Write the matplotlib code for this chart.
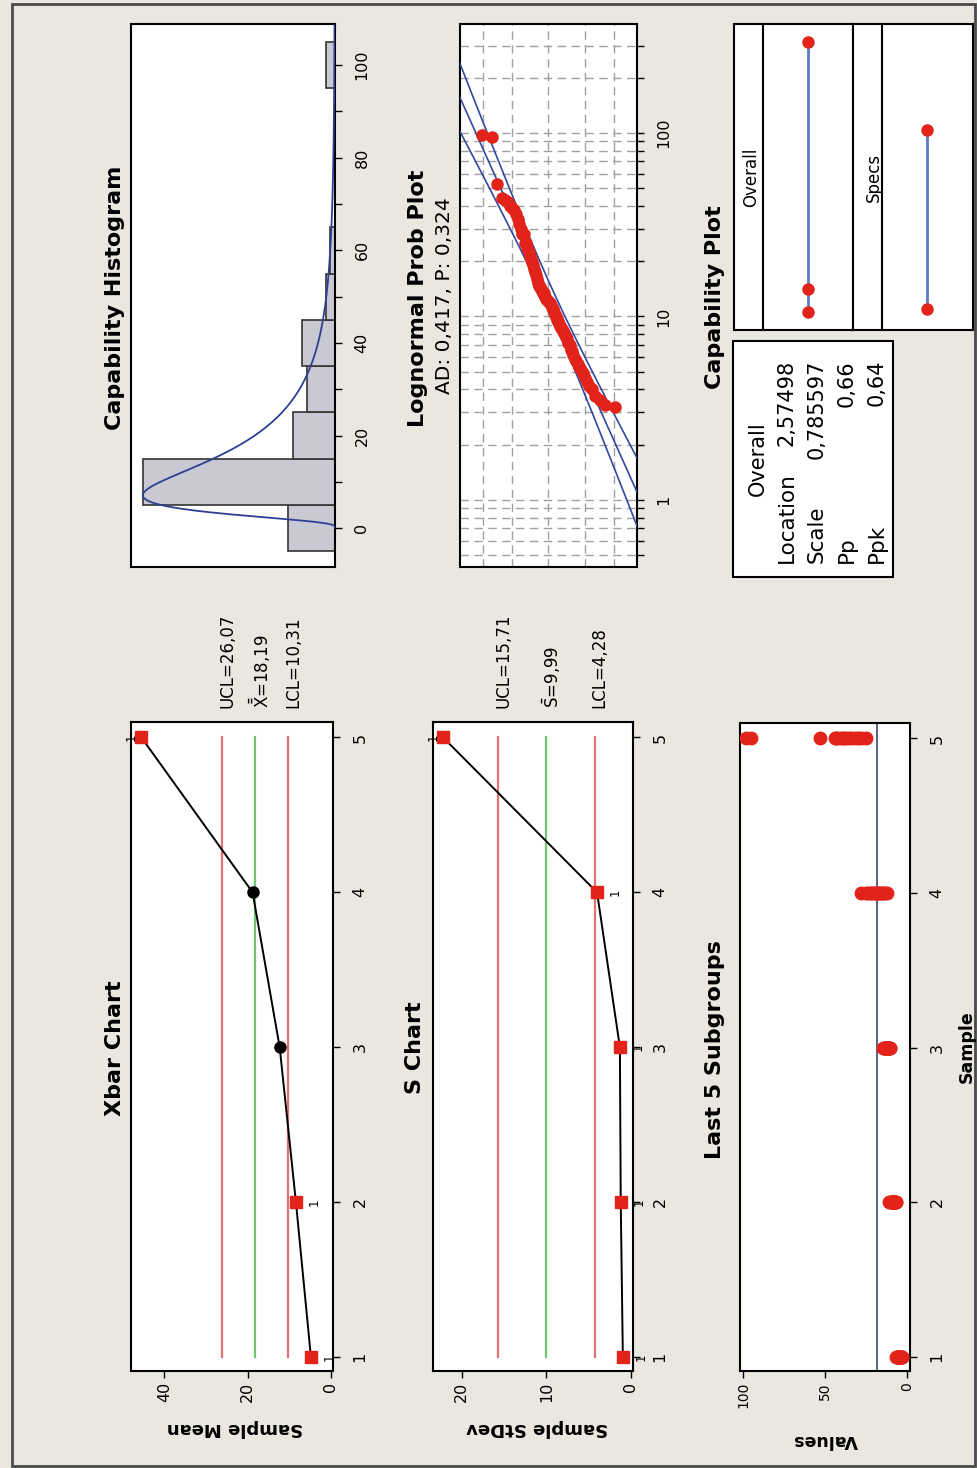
import numpy as np
import matplotlib
matplotlib.use("Agg")
import matplotlib.pyplot as plt
from matplotlib.patches import Rectangle
from matplotlib.ticker import FixedLocator, NullFormatter
from statistics import NormalDist

W, H = 977, 1468
BG = "#e9e7df"
RED = "#e2231a"
LIM_RED = "#e27373"
LIM_GREEN = "#6fc46f"
BLUE = "#2e3f93"

# ---------------- data ----------------
samples = [1, 2, 3, 4, 5]
xbar_means = [4.8, 8.4, 12.3, 18.8, 45.5]
xbar_ucl, xbar_cl, xbar_lcl = 26.07, 18.19, 10.31
s_values = [0.95, 1.2, 1.3, 4.0, 22.2]
s_ucl, s_cl, s_lcl = 15.71, 9.99, 4.28

sub1 = [3.2, 3.3, 3.5, 3.7, 4.0, 4.2, 4.4, 4.6, 4.9, 5.1, 5.3, 5.5, 5.7, 5.9, 6.2, 6.5]
sub2 = [6.6, 7.0, 7.2, 7.5, 7.7, 7.9, 8.1, 8.3, 8.5, 8.7, 8.9, 9.1, 9.4, 9.6, 10.0, 10.8]
sub3 = [10.2, 10.6, 11.0, 11.3, 11.6, 11.9, 12.1, 12.3, 12.5, 12.8, 13.1, 13.4, 13.7, 14.1, 14.6]
sub4 = [12.0, 13.5, 14.5, 15.3, 16.0, 16.8, 17.5, 18.2, 19.0, 19.8, 20.6, 21.5, 22.4, 23.5, 25.0, 28.0]
sub5 = [25, 28, 30, 32, 34, 36, 38, 39, 40, 42, 43, 44, 53, 95, 98]

hist_centers = [0, 10, 20, 30, 40, 50, 60, 70, 80, 90, 100]
hist_counts = [10, 41, 9, 6, 7, 2, 1, 0, 0, 0, 2]

location = 2.57498
scale = 0.785597
pp_value = 0.66
ppk_value = 0.64
ad_value = 0.417
p_value = 0.324
spec_limits = [3, 94]
prob_percents = [1, 10, 50, 90, 99]

subgroups = [sub1, sub2, sub3, sub4, sub5]
all_data = np.sort(np.concatenate([np.asarray(s, float) for s in subgroups]))
n_total = len(all_data)


def dec(v, nd):
    return f"{v:.{nd}f}".replace(".", ",")


plt.rcParams["font.family"] = ["DejaVu Sans"]
plt.rcParams["axes.linewidth"] = 1.5

fig = plt.figure(figsize=(W / 100, H / 100), dpi=100, facecolor=BG)


def add_ax(l, r, t, b):
    ax = fig.add_axes([l / W, 1 - b / H, (r - l) / W, (b - t) / H])
    ax.set_facecolor("white")
    return ax


def ftext(x, y, s, **kw):
    fig.text(x / W, 1 - y / H, s, **kw)


# outer frame
fig.patches.append(Rectangle((12 / W, 1 - 1466 / H), (975 - 12) / W, (1466 - 4) / H,
                             transform=fig.transFigure, fill=False,
                             edgecolor="#4a4a4a", lw=2))


def sample_axis(ax, labelsize=11.5):
    ax.set_ylim(0.91, 5.1)
    ax.yaxis.tick_right()
    ax.set_yticks(samples)
    ax.set_yticklabels([str(s) for s in samples], rotation=90, va="center",
                       fontsize=labelsize)
    ax.tick_params(axis="y", length=5, width=1, pad=9, direction="out")


def value_axis(ax, ticks, labelsize=11.5):
    ax.set_xticks(ticks)
    ax.set_xticklabels([str(t) for t in ticks], rotation=90, ha="center",
                       va="top", fontsize=labelsize)
    ax.tick_params(axis="x", length=5, width=1, pad=3, direction="out")


def control_chart(ax, vals, ucl, cl, lcl, labels):
    for v, c in [(ucl, LIM_RED), (cl, LIM_GREEN), (lcl, LIM_RED)]:
        ax.plot([v, v], [samples[0], samples[-1]], color=c, lw=1.6, zorder=2)
    ax.plot(vals, samples, color="black", lw=1.4, zorder=3)
    for v, s in zip(vals, samples):
        flag = v > ucl or v < lcl
        if flag:
            ax.plot(v, s, marker="s", color=RED, ms=8.5, mec=RED, zorder=4)
            off = -10 if v > ucl else 18
            ax.annotate("1", (v, s), xytext=(off, 0), textcoords="offset pixels",
                        rotation=90, fontsize=8.5, ha="center", va="center",
                        annotation_clip=False, zorder=5)
        else:
            ax.plot(v, s, marker="o", color="black", ms=8, zorder=4)
    for v, lab in zip([ucl, cl, lcl], labels):
        ax.annotate(lab, xy=(v, 1), xycoords=("data", "axes fraction"),
                    xytext=(5, 14), textcoords="offset pixels", rotation=90,
                    ha="center", va="bottom", fontsize=12)


# ---------------- Xbar chart ----------------
ax1 = add_ax(131, 333, 722, 1371)
ax1.set_xlim(48, -0.5)
sample_axis(ax1)
value_axis(ax1, [0, 20, 40])
control_chart(ax1, xbar_means, xbar_ucl, xbar_cl, xbar_lcl,
              ["UCL=" + dec(xbar_ucl, 2),
               r"$\bar{\bar{\mathrm{X}}}$=" + dec(xbar_cl, 2),
               "LCL=" + dec(xbar_lcl, 2)])
ftext(115, 1048, "Xbar Chart", rotation=90, ha="center", va="center",
      fontsize=16, fontweight="bold")
ftext(235, 1428, "Sample Mean", rotation=180, ha="center", va="center",
      fontsize=13, fontweight="bold")

# ---------------- S chart ----------------
ax2 = add_ax(433, 633, 722, 1371)
ax2.set_xlim(23.4, -0.25)
sample_axis(ax2)
value_axis(ax2, [0, 10, 20])
control_chart(ax2, s_values, s_ucl, s_cl, s_lcl,
              ["UCL=" + dec(s_ucl, 2),
               r"$\bar{\mathrm{S}}$=" + dec(s_cl, 2),
               "LCL=" + dec(s_lcl, 2)])
ftext(415, 1048, "S Chart", rotation=90, ha="center", va="center",
      fontsize=16, fontweight="bold")
ftext(537, 1428, "Sample StDev", rotation=180, ha="center", va="center",
      fontsize=13, fontweight="bold")

# ---------------- Last 5 subgroups ----------------
ax3 = add_ax(740, 910, 723, 1371)
ax3.set_xlim(101.8, -1.8)
sample_axis(ax3)
value_axis(ax3, [0, 50, 100], labelsize=10)
ax3.axvline(xbar_cl, color="#46557a", lw=1.3, zorder=2)
for s, sub in zip(samples, subgroups):
    ax3.plot(sub, [s] * len(sub), "o", color=RED, ms=10, mec="none", zorder=3)
ftext(715, 1050, "Last 5 Subgroups", rotation=90, ha="center", va="center",
      fontsize=16, fontweight="bold")
ftext(825, 1440, "Values", rotation=180, ha="center", va="center",
      fontsize=12.5, fontweight="bold")
ftext(967, 1047, "Sample", rotation=90, ha="center", va="center",
      fontsize=12.5, fontweight="bold")

# ---------------- Capability histogram ----------------
ax4 = add_ax(131, 335, 24, 567)
ax4.set_ylim(-8.4, 108.9)
ax4.set_xlim(43.6, 0)
ax4.barh(hist_centers, hist_counts, height=10, color="#c9c9d4",
         edgecolor="#333333", lw=1.2, zorder=2)
xs = np.linspace(0.05, 110, 1200)
pdf = np.exp(-(np.log(xs) - location) ** 2 / (2 * scale ** 2)) / (xs * scale * np.sqrt(2 * np.pi))
ax4.plot(n_total * 10 * pdf, xs, color=BLUE, lw=1.3, zorder=3)
ax4.set_xticks([])
ax4.yaxis.tick_right()
ax4.set_yticks([0, 20, 40, 60, 80, 100])
ax4.set_yticks([10, 30, 50, 70, 90], minor=True)
ax4.set_yticklabels(["0", "20", "40", "60", "80", "100"], rotation=90,
                    va="center", fontsize=11.5)
ax4.tick_params(axis="y", which="both", length=5, width=1, pad=9)
ftext(115, 298, "Capability Histogram", rotation=90, ha="center", va="center",
      fontsize=16, fontweight="bold")

# ---------------- Lognormal probability plot ----------------
ax5 = add_ax(460, 637, 24, 567)
ax5.set_yscale("log")
ax5.set_ylim(0.431, 393)
ax5.set_xlim(3.15, -3.15)
nd = NormalDist()
ranks = np.arange(1, n_total + 1)
zpts = np.array([nd.inv_cdf(p) for p in (ranks - 0.3) / (n_total + 0.4)])
zz = np.linspace(-3.4, 3.4, 200)
ln_fit = location + scale * zz
se = scale * np.sqrt(1 / n_total + zz ** 2 / (2 * n_total))
for off in (-1.96, 0, 1.96):
    ax5.plot(zz, np.exp(ln_fit + off * se), color="#3349a0", lw=1.2, zorder=3)
ax5.plot(zpts, all_data, "o", color=RED, ms=9, mec="none", zorder=4)
ax5.yaxis.tick_right()
ax5.yaxis.set_major_locator(FixedLocator([1, 10, 100]))
minor = [k * 10.0 ** e for e in (-1, 0, 1, 2) for k in range(2, 10)]
ax5.yaxis.set_minor_locator(FixedLocator(minor))
ax5.yaxis.set_minor_formatter(NullFormatter())
ax5.set_yticklabels(["1", "10", "100"], rotation=90, va="center", fontsize=11.5)
ax5.tick_params(axis="y", which="both", length=5, width=1, pad=9)
ax5.set_xticks([nd.inv_cdf(p / 100) for p in prob_percents])
ax5.tick_params(axis="x", length=0, labelbottom=False)
ax5.grid(True, which="both", axis="both", color="#a0a0a0", lw=1,
         ls=(0, (6, 4)), zorder=1)
ftext(418, 298, "Lognormal Prob Plot", rotation=90, ha="center", va="center",
      fontsize=16, fontweight="bold")
ftext(445, 296, f"AD: {dec(ad_value, 3)}, P: {dec(p_value, 3)}", rotation=90,
      ha="center", va="center", fontsize=14.5)

# ---------------- Capability plot ----------------
overall_interval = [np.exp(location - 3 * scale), np.exp(location), np.exp(location + 3 * scale)]
ax6 = add_ax(734, 853, 24, 330)
ax7 = add_ax(853, 973, 24, 330)
for ax in (ax6, ax7):
    ax.set_xlim(0, 1)
    ax.set_ylim(-7.9, 147.9)
    ax.set_xticks([])
    ax.set_yticks([])
    ax.axvline(0.24, color="black", lw=1.5)
ax6.plot([0.62] * 3, overall_interval, color="#5a7bc6", lw=2, zorder=2)
ax6.plot([0.62] * 3, overall_interval, "o", color=RED, ms=9, mec="none", zorder=3)
ax7.plot([0.62] * 2, spec_limits, color="#5a7bc6", lw=2, zorder=2)
ax7.plot([0.62] * 2, spec_limits, "o", color=RED, ms=9, mec="none", zorder=3)
ax6.text(0.14, 0.5, "Overall", rotation=90, ha="center", va="center",
         transform=ax6.transAxes, fontsize=12)
ax7.text(0.17, 0.5, "Specs", rotation=90, ha="center", va="center",
         transform=ax7.transAxes, fontsize=12)
ftext(715, 297, "Capability Plot", rotation=90, ha="center", va="center",
      fontsize=16, fontweight="bold")

# stats table
fig.patches.append(Rectangle((733 / W, 1 - 577 / H), (893 - 733) / W, (577 - 341) / H,
                             transform=fig.transFigure, facecolor="white",
                             edgecolor="black", lw=1.5))
ftext(758, 459, "Overall", rotation=90, ha="center", va="center", fontsize=15)
rows = [("Location", f"{location:.5f}".replace(".", ",")),
        ("Scale", f"{scale:.6f}".replace(".", ",")),
        ("Pp", dec(pp_value, 2)),
        ("Ppk", dec(ppk_value, 2))]
for xc, (lab, val) in zip([787, 817, 847, 877], rows):
    ftext(xc, 563, lab, rotation=90, ha="center", va="bottom", fontsize=15.5)
    ftext(xc, 360, val, rotation=90, ha="center", va="top", fontsize=15)

fig.savefig("out.png", dpi=100, facecolor=BG)
